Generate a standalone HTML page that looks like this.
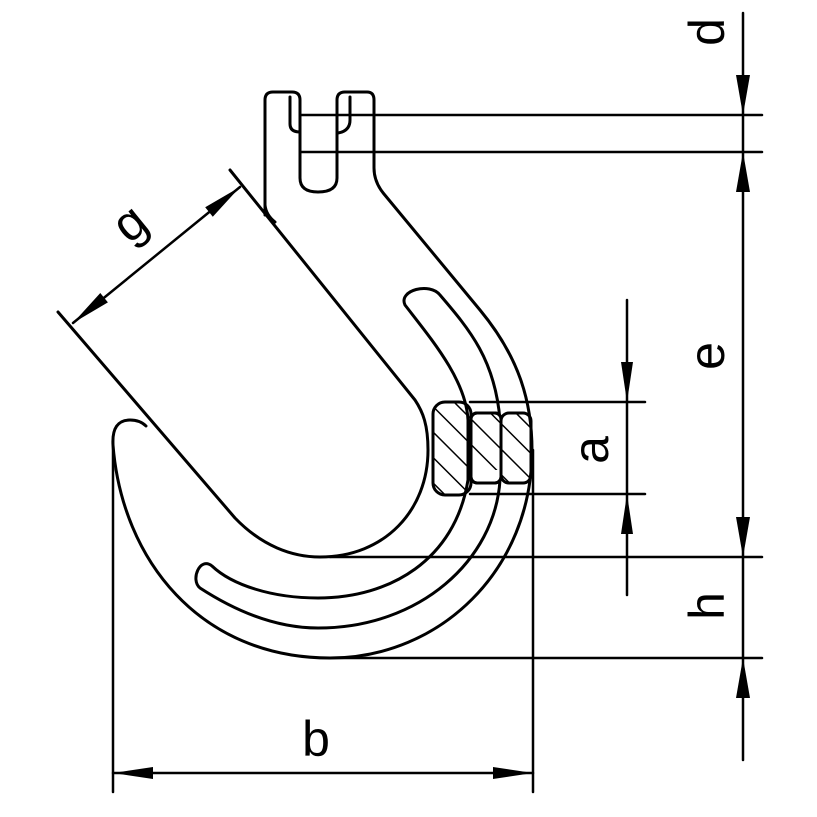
<!DOCTYPE html>
<html><head><meta charset="utf-8"><style>
html,body{margin:0;padding:0;background:#fff;}
svg{display:block;}
text{font-family:"Liberation Sans",sans-serif;font-size:50px;fill:#000;}
</style></head><body>
<svg width="817" height="817" viewBox="0 0 817 817" xmlns="http://www.w3.org/2000/svg">
<defs>
<pattern id="h" patternUnits="userSpaceOnUse" width="18" height="18" patternTransform="rotate(-45)">
<line x1="0" y1="0" x2="0" y2="18" stroke="#000" stroke-width="3"/>
</pattern>
</defs>
<g fill="none" stroke="#000" stroke-width="3" stroke-linecap="round" stroke-linejoin="round">
<path d="M265 215 L265 100 Q265 92 273 92 L292 92 Q300 92 300 100 L300 178 Q300 192 318 192 Q337 192 337 178 L337 100 Q337 92 345 92 L367 92 Q374 92 374 100 L374 168 Q374 182 384 194 L480 310 C518 356 532 400 532 450 C532 570 440 658 330 658 C200 658 122 560 113 445 C112 428 118 420 130 420 C137 420 142 422 146 426"/>
<path d="M290 97 L290 124 Q290 132 300 132"/>
<path d="M350 97 L350 120 Q350 131 338 133"/>
<path d="M58 312 L235 518 C262 546 292 557 320 557 C385 557 428 510 428 450 C428 425 423 412 415 400 L230 170"/>
<path d="M265 205 Q266 215 275 222"/>
<path d="M405 305 C432 340 466 380 468 420 L468 480 C455 560 390 598 318 598 C272 598 232 585 212 566 C200 556 190 580 200 588 C240 614 280 628 318 628 C420 628 495 560 500 480 L500 420 C495 360 470 330 440 295 C430 282 398 290 405 305 Z" fill="#fff"/>
<rect x="433" y="402" width="38" height="93" rx="12" fill="url(#h)"/>
<rect x="471" y="413" width="30" height="70" rx="6" fill="#fff"/>
<rect x="471" y="413" width="30" height="57" fill="url(#h)" stroke="none"/>
<rect x="471" y="413" width="30" height="70" rx="6"/>
<rect x="501" y="413" width="30" height="70" rx="8" fill="url(#h)"/>
<g stroke-width="2.5">
<line x1="300" y1="115" x2="762" y2="115"/>
<line x1="300" y1="152" x2="762" y2="152"/>
<line x1="330" y1="557" x2="762" y2="557"/>
<line x1="330" y1="658" x2="762" y2="658"/>
<line x1="470" y1="402" x2="645" y2="402"/>
<line x1="470" y1="494" x2="645" y2="494"/>
<line x1="113" y1="440" x2="113" y2="792"/>
<line x1="533" y1="450" x2="533" y2="792"/>
<line x1="743" y1="13" x2="743" y2="760"/>
<line x1="627" y1="300" x2="627" y2="595"/>
<line x1="113" y1="773" x2="533" y2="773"/>
<line x1="73" y1="323" x2="240" y2="187"/>
</g>
</g>
<g fill="#000">
<polygon points="743,115 736,75 750,75"/>
<polygon points="743,152 736,192 750,192"/>
<polygon points="743,557 736,517 750,517"/>
<polygon points="743,658 736,698 750,698"/>
<polygon points="627,402 621,362 633,362"/>
<polygon points="627,494 621,534 633,534"/>
<polygon points="113,773 153,767 153,779"/>
<polygon points="533,773 493,767 493,779"/>
<polygon points="240,187 212.8,216.7 205.2,207.3"/>
<polygon points="73,323 107.9,302.4 100.3,293.0"/>
</g>
<text transform="translate(724,32) rotate(-90)" text-anchor="middle">d</text>
<text transform="translate(724,356) rotate(-90)" text-anchor="middle">e</text>
<text transform="translate(724,606) rotate(-90)" text-anchor="middle">h</text>
<text transform="translate(608,450) rotate(-90)" text-anchor="middle">a</text>
<text x="316" y="756" text-anchor="middle">b</text>
<text transform="translate(140,236) rotate(-39)" text-anchor="middle">g</text>
</svg>
</body></html>
